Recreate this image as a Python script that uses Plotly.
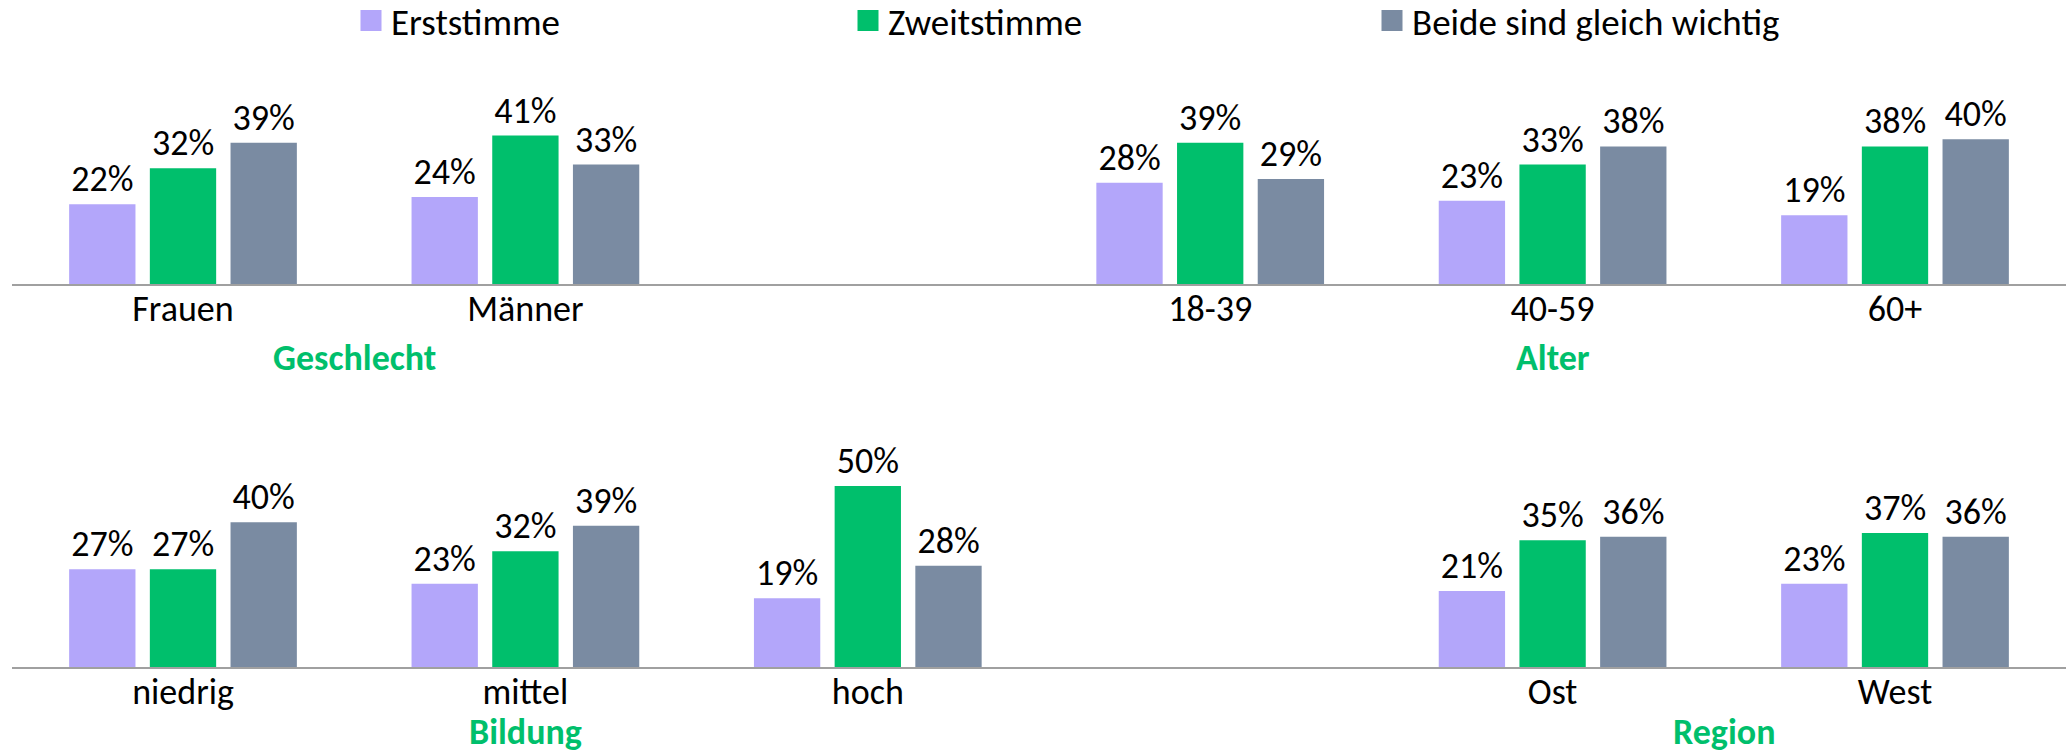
import plotly.graph_objects as go

# ---------------- data ----------------
series_names = ["Erststimme", "Zweitstimme", "Beide sind gleich wichtig"]
series_colors = ["#B3A6FA", "#00BF6C", "#7A8BA2"]

top_categories = ["Frauen", "Männer", " ", "18-39", "40-59", "60+"]
top_erst = [22, 24, None, 28, 23, 19]
top_zweit = [32, 41, None, 39, 33, 38]
top_beide = [39, 33, None, 29, 38, 40]

bottom_categories = ["niedrig", "mittel", "hoch", "  ", "Ost", "West"]
bottom_erst = [27, 23, 19, None, 21, 23]
bottom_zweit = [27, 32, 50, None, 35, 37]
bottom_beide = [40, 39, 28, None, 36, 36]

group_titles_top = [("Geschlecht", 0.5), ("Alter", 4)]
group_titles_bottom = [("Bildung", 1), ("Region", 4.5)]

# ---------------- layout constants ----------------
W, H = 2072, 756
FONT = "Carlito, Lato, 'Noto Sans', sans-serif"
FS = 36
PX_PER_UNIT = 3.62
x_left_px, x_right_px = 11.8, 2066.2

top_base_px, top_top_px = 284, 60
bot_base_px, bot_top_px = 667, 420


def py(px):
    return 1 - px / H


fig = go.Figure()

top_vals = [top_erst, top_zweit, top_beide]
bot_vals = [bottom_erst, bottom_zweit, bottom_beide]

for i, name in enumerate(series_names):
    for cats, vals, xa, ya in [(top_categories, top_vals[i], "x", "y"),
                                (bottom_categories, bot_vals[i], "x2", "y2")]:
        fig.add_trace(go.Bar(
            x=cats, y=vals, name=name, xaxis=xa, yaxis=ya,
            marker=dict(color=series_colors[i], line=dict(width=0)),
            texttemplate="%{y}%", textposition="outside",
            textfont=dict(family=FONT, size=FS, color="black"),
            constraintext="none", cliponaxis=False,
            showlegend=False, legendgroup=name, hoverinfo="skip",
        ))

# legend entries (one legend per item so positions match the reference)
legend_x_px = [351, 848, 1372]
legend_keys = ["legend", "legend2", "legend3"]
for i, name in enumerate(series_names):
    fig.add_trace(go.Scatter(
        x=[None], y=[None], mode="markers", name=name, xaxis="x", yaxis="y",
        marker=dict(symbol="square", size=16, color=series_colors[i],
                    line=dict(width=5, color=series_colors[i])),
        legend=legend_keys[i], legendgroup=name, showlegend=True,
    ))

legend_common = dict(orientation="h", yanchor="middle", xanchor="left",
                     bgcolor="rgba(0,0,0,0)", borderwidth=0,
                     font=dict(family=FONT, size=37, color="black"))
layout_legends = {}
for k, xpx in zip(legend_keys, legend_x_px):
    layout_legends[k] = dict(x=xpx / W, y=py(21), **legend_common)

axis_x_common = dict(
    type="category", range=[-0.5, 5.5], showline=True, linecolor="#A0A0A0",
    linewidth=2, ticks="", showgrid=False, zeroline=False, fixedrange=True,
    tickfont=dict(family=FONT, size=FS, color="black"), ticklabelstandoff=-8,
    domain=[x_left_px / W, x_right_px / W],
)
axis_y_common = dict(visible=False, showgrid=False, zeroline=False, fixedrange=True)

fig.update_layout(
    width=W, height=H,
    margin=dict(l=0, r=0, t=0, b=0, autoexpand=False),
    paper_bgcolor="white", plot_bgcolor="white",
    barmode="group", bargap=0.293, bargroupgap=0.178,
    font=dict(family=FONT, size=FS, color="black"),
    hovermode=False,
    xaxis=dict(anchor="y", categoryorder="array", categoryarray=top_categories,
               **axis_x_common),
    xaxis2=dict(anchor="y2", categoryorder="array", categoryarray=bottom_categories,
                **axis_x_common),
    yaxis=dict(anchor="x", domain=[py(top_base_px), py(top_top_px)],
               range=[0, (top_base_px - top_top_px) / PX_PER_UNIT], **axis_y_common),
    yaxis2=dict(anchor="x2", domain=[py(bot_base_px), py(bot_top_px)],
                range=[0, (bot_base_px - bot_top_px) / PX_PER_UNIT], **axis_y_common),
    **layout_legends,
)

for text, xpos in group_titles_top:
    fig.add_annotation(x=xpos, xref="x", y=py(358), yref="paper", text=f"<b>{text}</b>",
                       showarrow=False, yanchor="middle",
                       font=dict(family=FONT, size=FS, color="#00BF6C"))
for text, xpos in group_titles_bottom:
    fig.add_annotation(x=xpos, xref="x2", y=py(732), yref="paper", text=f"<b>{text}</b>",
                       showarrow=False, yanchor="middle",
                       font=dict(family=FONT, size=FS, color="#00BF6C"))

fig.write_html("out.html",
               config={"displayModeBar": False, "staticPlot": True},
               post_script="document.body.style.margin='0';document.body.style.overflow='hidden';")
